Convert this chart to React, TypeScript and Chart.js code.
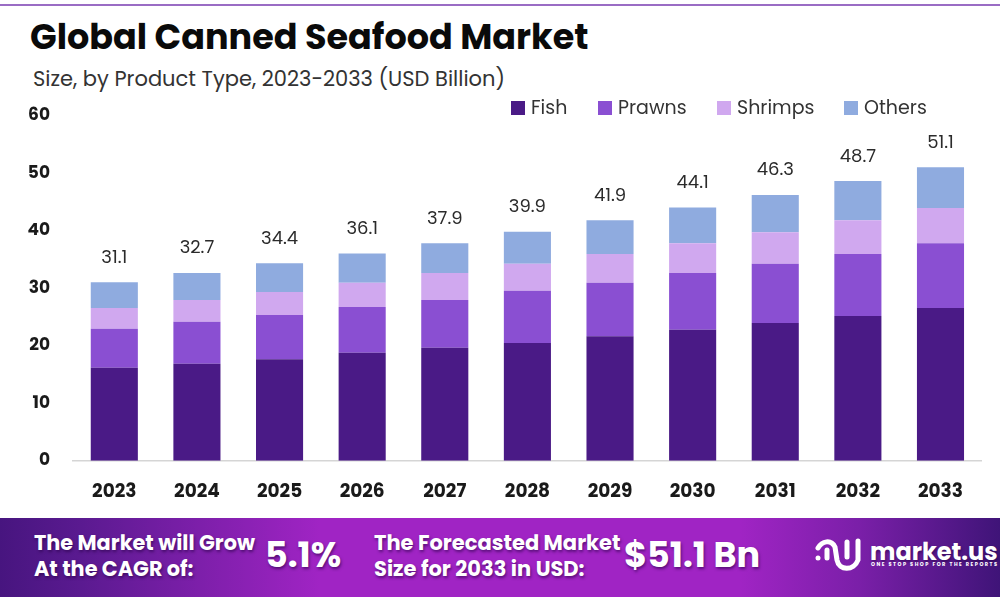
import React, { useEffect, useRef } from 'react';
import Chart from 'chart.js/auto';

const years = ['2023', '2024', '2025', '2026', '2027', '2028', '2029', '2030', '2031', '2032', '2033'];
const fish = [16.2, 16.9, 17.7, 18.8, 19.7, 20.5, 21.7, 22.8, 24.0, 25.2, 26.6];
const prawns = [6.8, 7.3, 7.7, 8.0, 8.3, 9.1, 9.3, 9.9, 10.3, 10.8, 11.3];
const shrimps = [3.6, 3.8, 4.0, 4.2, 4.7, 4.7, 5.0, 5.2, 5.5, 5.9, 6.1];
const others = [4.5, 4.7, 5.0, 5.1, 5.2, 5.6, 5.9, 6.2, 6.5, 6.8, 7.1];
const totals = [31.1, 32.7, 34.4, 36.1, 37.9, 39.9, 41.9, 44.1, 46.3, 48.7, 51.1];
const yTicks = [0, 10, 20, 30, 40, 50, 60];

const seriesNames = ['Fish', 'Prawns', 'Shrimps', 'Others'];
const seriesColors = ['#4a1a86', '#8a4fd2', '#d0a8ef', '#8fabdf'];
const seriesValues = [fish, prawns, shrimps, others];

const font = 'Poppins, Inter, "Open Sans", sans-serif';

// totals above each stack
const totalLabels = {
  id: 'totalLabels',
  afterDatasetsDraw(chart) {
    const { ctx, scales } = chart;
    ctx.save();
    ctx.font = `18px ${font}`;
    ctx.fillStyle = '#2b2b2b';
    ctx.textAlign = 'center';
    ctx.textBaseline = 'middle';
    totals.forEach((t, i) => {
      ctx.fillText(t.toFixed(1), scales.x.getPixelForValue(i), scales.y.getPixelForValue(t) - 24);
    });
    ctx.restore();
  }
};

const bannerText = {
  position: 'absolute',
  color: '#fff',
  fontFamily: font,
  fontWeight: 700,
  whiteSpace: 'nowrap',
  textShadow: '1px 2px 3px rgba(40,0,70,0.6)'
} as React.CSSProperties;

const App = () => {
  const canvasRef = useRef(null);

  useEffect(() => {
    document.body.style.margin = '0';
    const chart = new Chart(canvasRef.current.getContext('2d'), {
      type: 'bar',
      data: {
        labels: years,
        datasets: seriesNames.map((name, i) => ({
          label: name,
          data: seriesValues[i],
          backgroundColor: seriesColors[i],
          stack: 'total',
          barPercentage: 0.57,
          categoryPercentage: 1
        }))
      },
      options: {
        responsive: false,
        animation: false,
        layout: { padding: 0 },
        plugins: {
          legend: { display: false },
          tooltip: { enabled: false }
        },
        scales: {
          x: {
            stacked: true,
            grid: { display: false, drawTicks: false },
            border: { color: '#d5d5d5', width: 1.5 },
            ticks: {
              color: '#1a1a1a',
              padding: 20,
              font: { family: font, size: 18.5, weight: 'bold' }
            }
          },
          y: {
            stacked: true,
            min: 0,
            max: 60,
            grid: { display: false, drawTicks: false },
            border: { display: false },
            afterBuildTicks: axis => {
              axis.ticks = yTicks.map(value => ({ value }));
            },
            afterFit: axis => {
              axis.width = 73;
            },
            ticks: {
              color: '#1a1a1a',
              padding: 23,
              font: { family: font, size: 17, weight: 'bold' }
            }
          }
        }
      },
      plugins: [totalLabels]
    });
    return () => chart.destroy();
  }, []);

  return (
    <div style={{ position: 'relative', width: 1000, height: 600, background: '#fff', overflow: 'hidden', fontFamily: font }}>
      <div style={{ position: 'absolute', left: 0, top: 4, width: 1000, height: 1.5, background: '#9a6cc4' }} />
      <div style={{ position: 'absolute', left: 30, top: 10, fontSize: 35, fontWeight: 700, color: '#0a0a0a', whiteSpace: 'nowrap' }}>
        Global Canned Seafood Market
      </div>
      <div style={{ position: 'absolute', left: 33, top: 63, fontSize: 21, color: '#333', whiteSpace: 'nowrap' }}>
        Size, by Product Type, 2023-2033 (USD Billion)
      </div>
      <canvas ref={canvasRef} width={983} height={440} style={{ position: 'absolute', left: 0, top: 83 }} />
      <div style={{ position: 'absolute', top: 96, left: 0, width: 1000, height: 24 }}>
        {seriesNames.map((name, i) => (
          <span key={name} style={{ position: 'absolute', left: [511, 598, 717, 844][i], top: 0, whiteSpace: 'nowrap', fontSize: 19, color: '#333', lineHeight: '24px' }}>
            <span style={{ display: 'inline-block', width: 14, height: 14, background: seriesColors[i], marginRight: 6, verticalAlign: -1 }} />
            {name}
          </span>
        ))}
      </div>
      <div style={{ position: 'absolute', left: 0, top: 518, width: 1000, height: 79, background: 'linear-gradient(90deg, #47157f 0%, #5a1a90 8%, #a024c4 32%, #a024c4 74%, #7a1fa8 86%, #3f1478 100%)' }}>
        <div style={{ ...bannerText, left: 34, top: 12, fontSize: 20.8, lineHeight: '26px' }}>The Market will Grow<br />At the CAGR of:</div>
        <div style={{ ...bannerText, left: 265, top: 17, fontSize: 35, lineHeight: '40px' }}>5.1%</div>
        <div style={{ ...bannerText, left: 374, top: 12, fontSize: 21, lineHeight: '26px' }}>The Forecasted Market<br />Size for 2033 in USD:</div>
        <div style={{ ...bannerText, left: 624, top: 17, fontSize: 35, lineHeight: '40px' }}>$51.1 Bn</div>
        <svg width={50} height={42} style={{ position: 'absolute', left: 814, top: 17 }} fill="none" stroke="#fff" strokeWidth={5} strokeLinecap="round">
          <path d="M4 23 v0" />
          <path d="M4 13 C8 6 17 4 21 12 L23 25 C25 36 40 36 44 25 V6" />
          <path d="M33 7 V22" />
          <path d="M13 15 V23" />
        </svg>
        <div style={{ ...bannerText, left: 870, top: 19, fontSize: 24, lineHeight: '30px' }}>market.us</div>
        <div style={{ ...bannerText, left: 871, top: 43, fontSize: 5, lineHeight: '8px', letterSpacing: 1.5, textShadow: 'none' }}>ONE STOP SHOP FOR THE REPORTS</div>
      </div>
    </div>
  );
};

export default App;
